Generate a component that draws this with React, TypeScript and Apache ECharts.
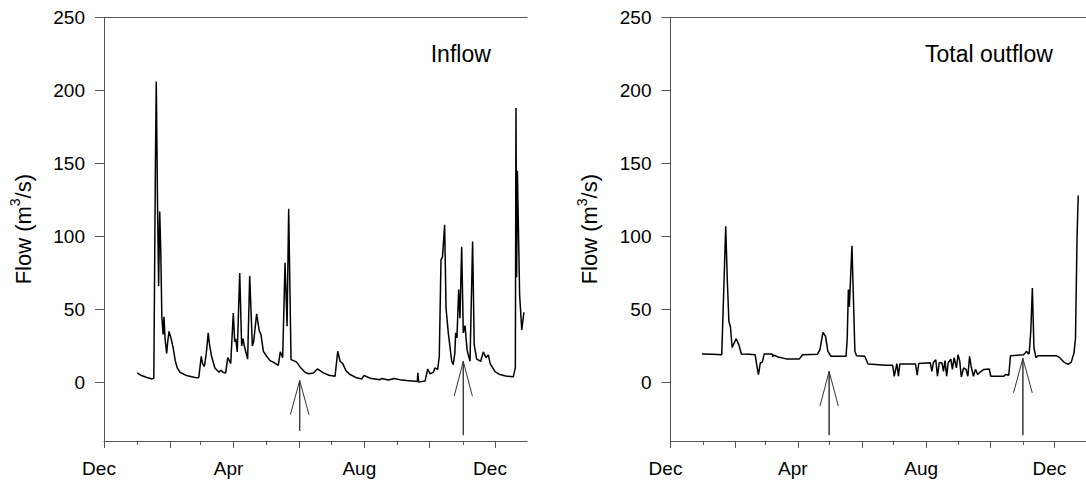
import React, { useEffect, useRef } from "react";
import * as echarts from "echarts";

// x values are days counted from 1 December
const majorTickDays = [0, 62, 121, 182, 243, 304, 365];
const minorTickDays = [31, 90, 151, 212, 274, 335];
const labelDays = [0, 121, 243, 365];
const labelNames = ["Dec", "Apr", "Aug", "Dec"];
const yTicks = [0, 50, 100, 150, 200, 250];

const inflowDays = [31, 35, 40, 45, 46.5, 48, 48.8, 50, 51, 52, 53, 54, 55.2, 56, 57, 58.5, 59.5, 60.7, 62.7, 64.5, 66.5, 68.4, 71, 77, 82, 86.5, 88.5, 90.8, 92, 93.7, 95.5, 97.3, 98.5, 100.4, 103.5, 107.4, 109, 111, 113.6, 115.5, 117, 118.3, 120.7, 122, 123, 124.4, 126.7, 128.5, 129.8, 131, 134.1, 136, 138.5, 139.7, 142.5, 144.9, 146.5, 148.8, 151.8, 155, 158, 162.7, 164.6, 166.8, 169, 170.9, 172.4, 174.6, 177, 179.9, 183, 187.7, 191, 195.4, 199.2, 204.8, 210, 215.7, 218.2, 220.4, 222.9, 226, 229.7, 235, 240.6, 242.8, 248.3, 257.6, 259, 265.4, 271, 276, 282.5, 292.5, 293, 293.8, 299.7, 302.2, 304.3, 307.4, 309, 311.5, 313, 314.6, 316, 318, 319.3, 321.4, 324.6, 326, 327.5, 328.3, 329.5, 331.1, 332.3, 333.9, 335.4, 337, 339, 341.7, 344.1, 345.6, 347.9, 351.7, 354.1, 356.6, 358.8, 360.5, 365, 369.6, 375, 382.1, 384, 384.6, 385.2, 385.9, 388, 390, 392];
const inflowValues = [6.6, 4.8, 3.5, 2.5, 3, 150, 206, 120, 66, 117, 90, 45, 33, 45, 30, 20, 28, 35, 30, 24, 15, 10, 7, 4.8, 4, 3.2, 3.5, 18, 13, 11, 20, 34, 26, 18, 10, 7, 8.5, 7, 6.5, 17, 15, 13, 47.6, 28, 30, 21, 75, 25, 30, 25, 16, 73, 25, 28, 47, 35.5, 33, 21.4, 18, 15, 14, 11.7, 21, 17, 82, 38.5, 119, 15.7, 15, 14, 10.7, 7, 6, 6.6, 9.3, 6.6, 5, 4.3, 21.4, 14.6, 13, 8, 5.5, 3.5, 2.5, 4.8, 3, 2, 2.8, 1.8, 2.8, 2, 1.4, 0.7, 6.6, 0.3, 1, 9.3, 6, 7, 10, 9, 18, 84, 86, 108, 51, 34, 14.6, 12.3, 20, 34, 30.6, 63.6, 44, 93, 34, 39, 22, 14.6, 96.6, 26, 16, 14.6, 21, 17, 19, 13, 7.5, 5.5, 4.5, 3.9, 10, 188, 72, 145, 60, 36, 48];

const outflowDays = [30, 40, 48.7, 50.5, 52.5, 54, 55.5, 57, 58.6, 60.5, 62.4, 64.9, 67.4, 75, 80.5, 82, 83.6, 85.4, 87.3, 89.1, 96.6, 97.3, 97.9, 99.1, 102.2, 110, 122.5, 125.6, 139.6, 142.1, 144.9, 147.4, 149.6, 152.6, 166.9, 168, 169.1, 170, 172.5, 175.3, 176.9, 184.7, 187.8, 204.9, 211.2, 212.7, 215.2, 216.7, 218, 232.9, 234.5, 236, 246.9, 248.5, 250, 252.2, 253.8, 255.5, 258, 259.5, 261, 262.5, 264, 266.5, 268, 269.6, 271.8, 273.3, 274.9, 276.5, 278.7, 281, 282.7, 284.3, 285.8, 288, 289.9, 292, 295.2, 298, 303, 304.5, 316.9, 318.5, 321.6, 323.2, 335.6, 338.7, 340, 341, 342.5, 344, 345.5, 347.4, 349.5, 366.7, 370, 374, 378, 381, 383.5, 385, 386.5, 387.6];
const outflowValues = [19.6, 19.3, 19, 60, 107, 70, 42, 38, 24, 27, 30, 26, 19.6, 19.3, 19, 12, 5.5, 13.4, 14, 19.6, 19.6, 17.5, 19, 18.5, 17.5, 16.2, 16.2, 19, 19.3, 22.6, 34.4, 31.6, 21.4, 18, 18, 30, 63.6, 51.7, 93.6, 21.4, 18.4, 18, 12.7, 11.8, 11.8, 4.3, 13, 4.3, 12.7, 12.7, 5, 13, 13.6, 7.7, 14, 15.5, 4.3, 13.6, 13.6, 7.7, 15, 4.3, 13.6, 16, 9, 17, 10, 19, 15, 3.9, 10, 9, 4.3, 18, 11, 4.3, 9, 5.5, 7.7, 9, 9.3, 4.3, 4.3, 5.5, 5, 18.4, 19, 21.4, 19.6, 20, 35, 64.7, 24, 17, 18.4, 18.4, 17, 14, 12.5, 14, 20, 30, 100, 128];

// arrow annotations (day, tip value, base value, wing value, half width in days)
const inflowArrows = [
  { day: 182.7, tip: 1.4, base: -33, wing: -22, half: 8.7 },
  { day: 335.4, tip: 14.5, base: -36, wing: -9.3, half: 8.5 },
];
const outflowArrows = [
  { day: 150.8, tip: 7.7, base: -36, wing: -16.1, half: 8.7 },
  { day: 335, tip: 16.5, base: -36, wing: -7, half: 8.9 },
];

const FONT = "'Liberation Sans', Arial, Helvetica, sans-serif";
const AXIS_COLOR = "#555";
const X_MAX = 395;

function pairs(xs: number[], ys: number[]) {
  return xs.map((x, i) => [x, ys[i]]);
}

function arrowData(a: { day: number; tip: number; base: number; wing: number; half: number }) {
  return [
    [a.day - a.half, a.wing],
    [a.day, a.tip],
    [a.day, a.base],
    [a.day, a.tip],
    [a.day + a.half, a.wing],
  ];
}

function xAxesFor(gridIndex: number) {
  const lineStyle = { color: AXIS_COLOR, width: 1 };
  return [
    {
      type: "value",
      gridIndex,
      position: "bottom",
      min: 0,
      max: X_MAX,
      axisLine: { show: true, onZero: false, lineStyle },
      axisTick: { show: true, customValues: majorTickDays, length: 7, lineStyle },
      axisLabel: {
        show: true,
        customValues: labelDays,
        formatter: (v: number) => {
          const i = labelDays.indexOf(Math.round(v));
          return i >= 0 ? labelNames[i] : "";
        },
        margin: 18,
        fontSize: 19,
        fontFamily: FONT,
        color: "#000",
        padding: [0, 10, 0, 0],
      },
      splitLine: { show: false },
    },
    {
      type: "value",
      gridIndex,
      position: "bottom",
      min: 0,
      max: X_MAX,
      axisLine: { show: false, onZero: false },
      axisTick: { show: true, customValues: minorTickDays, length: 4, lineStyle },
      axisLabel: { show: false },
      splitLine: { show: false },
    },
    {
      type: "value",
      gridIndex,
      position: "top",
      min: 0,
      max: X_MAX,
      axisLine: { show: true, onZero: false, lineStyle },
      axisTick: { show: false },
      axisLabel: { show: false },
      splitLine: { show: false },
    },
  ];
}

function yAxisFor(gridIndex: number) {
  const lineStyle = { color: AXIS_COLOR, width: 1 };
  return {
    type: "value",
    gridIndex,
    min: -40,
    max: 250,
    axisLine: { show: true, onZero: false, lineStyle },
    axisTick: { show: true, customValues: yTicks, length: 9, lineStyle },
    axisLabel: {
      show: true,
      customValues: yTicks,
      margin: 19,
      fontSize: 19,
      fontFamily: FONT,
      color: "#000",
    },
    splitLine: { show: false },
    name: "{a|Flow (m}{sup|3}{a|/s)}",
    nameLocation: "middle",
    nameRotate: 90,
    nameGap: 66,
    nameTextStyle: {
      fontFamily: FONT,
      color: "#000",
      rich: {
        a: { fontSize: 22, lineHeight: 30, fontFamily: FONT, color: "#000" },
        sup: { fontSize: 14, lineHeight: 20, verticalAlign: "top", fontFamily: FONT, color: "#000" },
      },
    },
  };
}

export default function App() {
  const ref = useRef<HTMLDivElement>(null);

  useEffect(() => {
    if (!ref.current) return;
    const chart = echarts.init(ref.current, undefined, { renderer: "svg" });
    const dataLine = { color: "#000", width: 1.5 };
    const arrowLine = { color: "#333", width: 1 };
    const option: any = {
      animation: false,
      backgroundColor: "#fff",
      grid: [
        { left: 104, top: 17.3, width: X_MAX * 1.0712, height: 423.7 },
        { left: 670.5, top: 17.3, width: X_MAX * 1.0712, height: 423.7 },
      ],
      xAxis: [...xAxesFor(0), ...xAxesFor(1)],
      yAxis: [yAxisFor(0), yAxisFor(1)],
      series: [
        {
          type: "line",
          xAxisIndex: 0,
          yAxisIndex: 0,
          data: pairs(inflowDays, inflowValues),
          symbol: "none",
          lineStyle: dataLine,
          silent: true,
        },
        {
          type: "line",
          xAxisIndex: 3,
          yAxisIndex: 1,
          data: pairs(outflowDays, outflowValues),
          symbol: "none",
          lineStyle: dataLine,
          silent: true,
        },
        ...inflowArrows.map((a) => ({
          type: "line",
          xAxisIndex: 0,
          yAxisIndex: 0,
          data: arrowData(a),
          symbol: "none",
          lineStyle: arrowLine,
          silent: true,
        })),
        ...outflowArrows.map((a) => ({
          type: "line",
          xAxisIndex: 3,
          yAxisIndex: 1,
          data: arrowData(a),
          symbol: "none",
          lineStyle: arrowLine,
          silent: true,
        })),
      ],
      graphic: [
        {
          type: "text",
          x: 430.7,
          y: 54.4,
          style: {
            text: "Inflow",
            font: `23px ${FONT}`,
            fill: "#000",
            align: "left",
            verticalAlign: "middle",
          },
        },
        {
          type: "text",
          x: 925,
          y: 53.7,
          style: {
            text: "Total outflow",
            font: `23px ${FONT}`,
            fill: "#000",
            align: "left",
            verticalAlign: "middle",
          },
        },
      ],
    };
    chart.setOption(option);
    return () => chart.dispose();
  }, []);

  return (
    <div
      ref={ref}
      style={{ position: "fixed", left: 0, top: 0, width: 1086, height: 482 }}
    />
  );
}
